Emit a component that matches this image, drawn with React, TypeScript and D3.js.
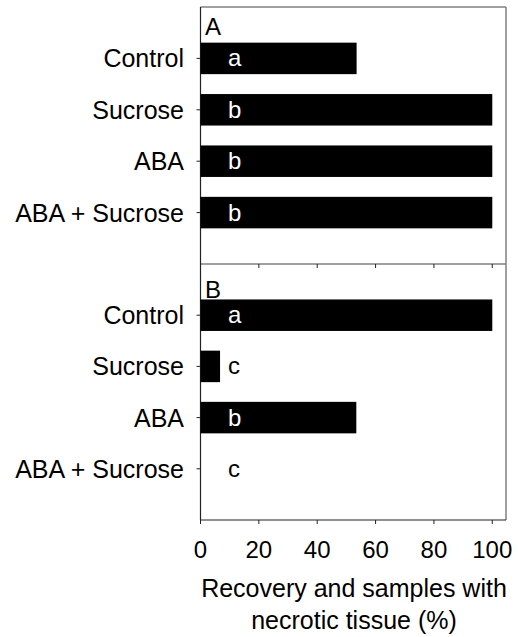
import { scaleLinear } from 'd3';

const categories = ['Control', 'Sucrose', 'ABA', 'ABA + Sucrose'];
const valuesA = [53.5, 100, 100, 100];
const lettersA = ['a', 'b', 'b', 'b'];
const valuesB = [100, 6.7, 53.4, 0];
const lettersB = ['a', 'c', 'b', 'c'];
const xTicks = [0, 20, 40, 60, 80, 100];

const font = 'Liberation Sans, Arial, sans-serif';
const frame = '#808080';

const x = scaleLinear().domain([0, 104.7]).range([200.5, 506]);

const panels = [
  { name: 'A', values: valuesA, letters: lettersA, top: 7, bottom: 264, labelY: 35 },
  { name: 'B', values: valuesB, letters: lettersB, top: 264, bottom: 520, labelY: 298 },
];

const barH = 31.5;

export default function App() {
  return (
    <svg
      width={518}
      height={637}
      style={{ position: 'absolute', left: 0, top: 0, background: '#fff' }}
      fontFamily={font}
    >
      {/* frame */}
      <line x1={x(0)} x2={x.range()[1]} y1={7} y2={7} stroke={frame} strokeWidth={1.5} />
      <line x1={x.range()[1]} x2={x.range()[1]} y1={7} y2={520} stroke={frame} strokeWidth={1.5} />
      <line x1={x(0)} x2={x.range()[1]} y1={264} y2={264} stroke={frame} strokeWidth={1.5} />
      <line x1={x(0)} x2={x(0)} y1={7} y2={520} stroke="#222" strokeWidth={1.2} />
      <line x1={x(0)} x2={x.range()[1]} y1={520} y2={520} stroke="#222" strokeWidth={1.2} />

      {panels.map((p) => {
        const y = scaleLinear().domain([0, 5]).range([p.top, p.bottom]);
        return (
          <g key={p.name}>
            <text x={205} y={p.labelY} fontSize={24}>
              {p.name}
            </text>
            {categories.map((c, i) => {
              const cy = y(i + 1);
              const v = p.values[i];
              return (
                <g key={c}>
                  <line x1={x(0) - 4} x2={x(0)} y1={cy} y2={cy} stroke="#222" strokeWidth={1} />
                  <text x={184} y={cy + 9} fontSize={25} textAnchor="end">
                    {c}
                  </text>
                  {v > 0 && (
                    <rect x={x(0)} y={cy - barH / 2} width={x(v) - x(0)} height={barH} fill="#000" />
                  )}
                  <text
                    x={228}
                    y={cy + 8}
                    fontSize={24}
                    fill={x(v) > 245 ? '#fff' : '#000'}
                  >
                    {p.letters[i]}
                  </text>
                </g>
              );
            })}
            {xTicks.map((t) => (
              <line
                key={t}
                x1={x(t)}
                x2={x(t)}
                y1={p.bottom}
                y2={p.bottom + 4}
                stroke="#222"
                strokeWidth={1}
              />
            ))}
          </g>
        );
      })}

      {xTicks.map((t) => (
        <text key={t} x={x(t)} y={558} fontSize={24} textAnchor="middle">
          {t}
        </text>
      ))}
      <text x={354} y={597} fontSize={25} textAnchor="middle">
        Recovery and samples with
      </text>
      <text x={354} y={629} fontSize={25} textAnchor="middle">
        necrotic tissue (%)
      </text>
    </svg>
  );
}
